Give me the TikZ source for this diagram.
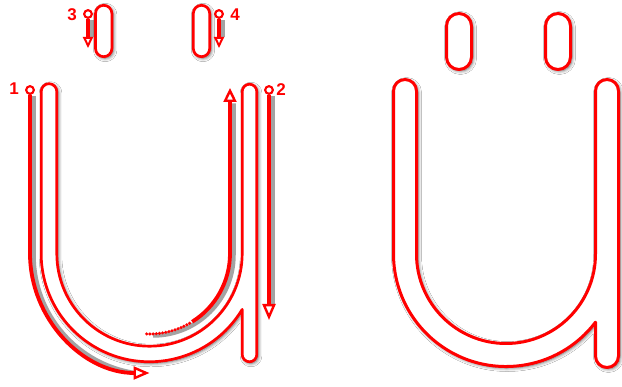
\documentclass[tikz,border=0pt]{standalone}
\usepackage{fontspec}
\setmainfont{Liberation Sans}
\usetikzlibrary{arrows.meta,shadows.blur}
\definecolor{rd}{RGB}{255,0,0}
\tikzset{
  glyph/.style={draw=rd, fill=white, line width=#1, line join=round,
    blur shadow={shadow xshift=1.5pt, shadow yshift=-1.5pt, shadow blur radius=3.5pt, shadow opacity=65}},
  glyph/.default=2.7pt,
  strokeline/.style={draw=rd, line width=3.8pt},
  strokeshadow/.style={draw=black!60, line width=4.5pt, opacity=.6, transform canvas={xshift=3.5pt, yshift=-1.5pt}},
  tipw/.style={-{Triangle[length=#1, width=13pt, fill=white, line width=2.4pt]}},
  tipw/.default=14pt,
  startdot/.style={circle, draw=rd, fill=white, line width=2pt, minimum size=7.5pt, inner sep=0pt},
  num/.style={text=rd, font=\bfseries\fontsize{17}{17}\selectfont, inner sep=0pt},
  beads/.style={draw=rd, line width=3.4pt, line cap=round, dash pattern=on 0pt off 3.2pt}
}
\begin{document}
\begin{tikzpicture}[x=1pt,y=1pt]
\useasboundingbox (0,0) rectangle (622,-387);
\fill[white] (0,0) rectangle (622,-387);

% ---------- left glyph ----------
\draw[glyph] (95.5,-13.5) arc[start angle=180,end angle=0,radius=8.2] -- (111.9,-48.5) arc[start angle=0,end angle=-180,radius=8.2] -- cycle;
\draw[glyph] (193.3,-13.5) arc[start angle=180,end angle=0,radius=8.2] -- (209.7,-48.5) arc[start angle=0,end angle=-180,radius=8.2] -- cycle;
\draw[glyph] (41.2,-91.5) arc[start angle=180,end angle=0,radius=7.8]
  -- (56.8,-253.5) arc[start angle=180,end angle=360,radius=92.7]
  -- (242.2,-91.5) arc[start angle=180,end angle=0,radius=7.3]
  -- (256.8,-354.5) arc[start angle=0,end angle=-180,radius=7.3]
  -- (242.2,-309.4) arc[start angle=-31.1,end angle=-180,radius=108.3] -- cycle;

% ---------- right glyph ----------
\draw[glyph=3pt] (446.5,-26) arc[start angle=180,end angle=0,radius=12.5] -- (471.5,-57) arc[start angle=0,end angle=-180,radius=12.5] -- cycle;
\draw[glyph=3pt] (545.5,-26) arc[start angle=180,end angle=0,radius=12.5] -- (570.5,-57) arc[start angle=0,end angle=-180,radius=12.5] -- cycle;
\draw[glyph=3pt] (393.5,-91) arc[start angle=180,end angle=0,radius=11.5]
  -- (416.5,-254) arc[start angle=180,end angle=360,radius=89.5]
  -- (595.5,-91) arc[start angle=180,end angle=0,radius=11.5]
  -- (618.5,-356) arc[start angle=0,end angle=-180,radius=11.5]
  -- (595.5,-322.2) arc[start angle=-37.3,end angle=-180,radius=112.5] -- cycle;

% ---------- stroke order marks ----------
\node[startdot] (s1) at (30,-90) {};
\node[startdot] (s2) at (269,-90) {};
\node[startdot] (s3) at (88,-14) {};
\node[startdot] (s4) at (219,-14) {};
\coordinate (e2) at (269,-320);
\coordinate (e3) at (88,-48);
\coordinate (e4) at (219,-48);
\coordinate (cu) at (149.5,-253.5);
\coordinate (eu) at (230,-88);

% shadows
\draw[strokeshadow] (s1.south) -- (30,-253.5) arc[start angle=180,end angle=262,radius=119.5];
\draw[strokeshadow] (s2.south) -- (269,-305);
\draw[strokeshadow] (s3.south) -- (88,-36);
\draw[strokeshadow] (s4.south) -- (219,-36);
\draw[strokeshadow] (cu) ++(-90:80.5) arc[start angle=-90,end angle=0,radius=80.5] -- (230,-102);

% strokes
\draw[strokeline,tipw=16pt] (s1.south) -- (30,-253.5) arc[start angle=180,end angle=270,radius=119.5];
\draw[strokeline,tipw=16pt] (s2.south) -- (e2);
\draw[strokeline,-{Triangle[length=11pt, width=10pt, fill=white, line width=2pt]}] (s3.south) -- (e3);
\draw[strokeline,-{Triangle[length=11pt, width=10pt, fill=white, line width=2pt]}] (s4.south) -- (e4);
\draw[beads] (cu) ++(-92:80.5) arc[start angle=-92,end angle=-58,radius=80.5];
\draw[strokeline,tipw=14pt] (cu) ++(-58:80.5) arc[start angle=-58,end angle=0,radius=80.5] -- (eu);

% start dots on top
\node[startdot] at (s1) {};
\node[startdot] at (s2) {};
\node[startdot] at (s3) {};
\node[startdot] at (s4) {};

% numbers
\node[num] (n1) at (14,-89) {1};
\node[num] (n2) at (281,-90) {2};
\node[num] (n3) at (72,-15) {3};
\node[num] (n4) at (235,-15) {4};
\end{tikzpicture}
\end{document}
